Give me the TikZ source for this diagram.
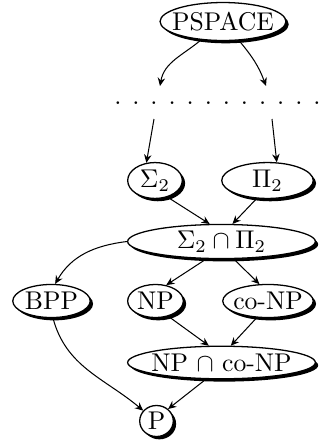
\documentclass[tikz,border=0pt]{standalone}
\usepackage{tikz}
\usetikzlibrary{shapes.geometric, shadows, arrows.meta}

\newcommand{\gap}{\hspace{4.28pt}}

\begin{document}
\begin{tikzpicture}[x=0.39pt, y=-0.39pt, >={Stealth[length=3.2pt, width=2.9pt]},
    cls/.style={ellipse, draw, line width=0.5pt, fill=white, inner xsep=-30pt, inner ysep=-10pt,
        drop shadow={shadow xshift=1.1pt, shadow yshift=-1.1pt, fill=black, opacity=1}}]
    \useasboundingbox (0,0) rectangle (320,447);

    \node[cls, minimum width=49.1pt, minimum height=14.8pt] (ps) at (223,21.5) {PSPACE};
    \node[inner sep=0pt] (dots) at (217.4,103)
        {.\gap.\gap.\gap.\gap.\gap.\gap.\gap.\gap.\gap.\gap.\gap.};
    \coordinate (dl) at (160,86);
    \coordinate (dr) at (266,86);
    \coordinate (ul) at (154,119);
    \coordinate (ur) at (272,119);

    \node[cls, minimum width=21.3pt, minimum height=14pt] (s2) at (155,180.5) {$\Sigma_2$};
    \node[cls, minimum width=35.7pt, minimum height=14pt] (p2) at (267.5,180.5) {$\Pi_2$};
    \node[cls, minimum width=73.2pt, minimum height=13.3pt] (sp) at (221.5,241.5) {$\Sigma_2 \cap \Pi_2$};

    \node[cls, minimum width=30.2pt, minimum height=12.9pt] (bpp) at (51.5,301) {BPP};
    \node[cls, minimum width=21.7pt, minimum height=12.9pt] (np) at (155.5,301) {NP};
    \node[cls, minimum width=35.3pt, minimum height=12.9pt] (conp) at (268,301) {co-NP};
    \node[cls, minimum width=73.2pt, minimum height=12.7pt] (npc) at (221.5,362.5) {NP $\cap$ co-NP};
    \node[cls, minimum width=13.1pt, minimum height=12.1pt] (p) at (156.5,421) {P};

    \path[->]
    (ps.220) edge[out=-140, in=80] (dl)
    (ps.-50) edge[out=-50, in=110] (dr)
    (ul) edge (s2.116)
    (ur) edge (p2.63)
    (s2.-53) edge (sp.124)
    (p2.-121) edge (sp.58)
    (sp.west) edge[out=187, in=60] (bpp.78)
    (sp.-131) edge (np.56)
    (sp.-55) edge (conp.117)
    (np.-50) edge (npc.127)
    (conp.-124) edge (npc.61)
    (bpp.-85) edge[out=-75, in=140] (p.142)
    (npc.-133) edge (p.46);
\end{tikzpicture}
\end{document}
